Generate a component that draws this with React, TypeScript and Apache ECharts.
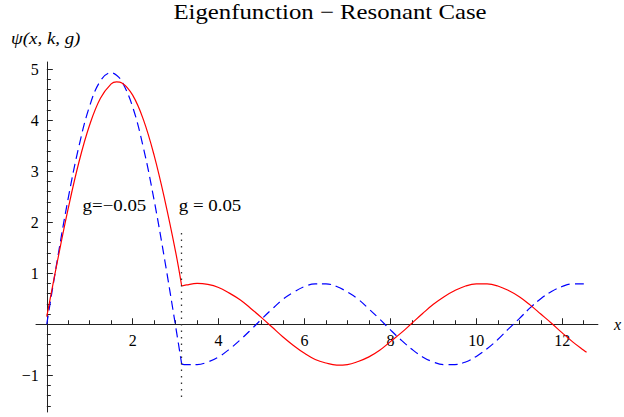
import React, { useEffect, useRef } from "react";
import * as echarts from "echarts";

// Sample positions and readings of the two eigenfunctions.
// Inside the well: 0 <= x <= pi ; outside: pi <= x <= 4 pi.
const X_INNER = [0, 0.25, 0.5, 0.75, 1, 1.25, 1.5, 1.625, 1.75, 2, 2.25, 2.5, 2.75, 3, 3.1416];
const RED_INNER = [0.15, 1.24, 2.27, 3.18, 3.91, 4.43, 4.71, 4.75, 4.73, 4.49, 4.01, 3.31, 2.43, 1.42, 0.75];
const BLUE_INNER = [0, 1.28, 2.47, 3.49, 4.28, 4.77, 4.93, 4.88, 4.76, 4.26, 3.46, 2.43, 1.24, -0.04, -0.78];

const X_OUTER = [
  3.1416, 3.25, 3.5, 3.75, 4, 4.25, 4.5, 4.75, 5, 5.25, 5.5, 5.75, 6, 6.25, 6.5, 6.75, 7, 7.25, 7.5, 7.75,
  8, 8.25, 8.5, 8.75, 9, 9.25, 9.5, 9.75, 10, 10.25, 10.5, 10.75, 11, 11.25, 11.5, 11.75, 12, 12.25, 12.5, 12.566,
];
const RED_OUTER = [
  0.75, 0.77, 0.8, 0.78, 0.72, 0.61, 0.48, 0.31, 0.13, -0.06, -0.25, -0.42, -0.57, -0.69, -0.76, -0.8, -0.79, -0.73, -0.64, -0.51,
  -0.34, -0.17, 0.02, 0.21, 0.39, 0.54, 0.66, 0.75, 0.79, 0.79, 0.75, 0.66, 0.54, 0.38, 0.2, 0.02, -0.17, -0.35, -0.51, -0.55,
];
const BLUE_OUTER = [
  -0.78, -0.79, -0.79, -0.74, -0.64, -0.49, -0.31, -0.11, 0.1, 0.3, 0.49, 0.63, 0.74, 0.79, 0.79, 0.74, 0.63, 0.49, 0.3, 0.1,
  -0.11, -0.31, -0.49, -0.64, -0.74, -0.79, -0.79, -0.74, -0.63, -0.48, -0.3, -0.09, 0.11, 0.32, 0.5, 0.64, 0.74, 0.79, 0.79, 0.78,
];

// Axis ticks
const X_MAJOR = [2, 4, 6, 8, 10, 12];
const Y_MAJOR = [-1, 1, 2, 3, 4, 5];

// Annotations: boundary at x = pi and the two coupling labels
const BOUNDARY_X = 3.1416;
const BOUNDARY_Y = [1.79, -1.5];
const NOTES: [number, number, string][] = [
  [1.576, 2.33, "g=\u22120.05"],
  [3.8, 2.33, "g = 0.05"],
];

const TITLE = "Eigenfunction \u2212 Resonant Case";
const Y_NAME = "\u03c8(x, k, g)";

const FONT = "Liberation Serif, serif";
// Typeset text in this plot runs a little wider than plain Times.
const TEXT_STRETCH = 1.18;

// Plot frame
const W = 624;
const H = 417;
const GRID = { left: 36, right: 22, top: 62, bottom: 5 };
const X_MIN = -0.25;
const X_MAX = 12.83;
const Y_MIN = -1.72;
const Y_MAX = 5.14;

function zip(xs: number[], ys: number[]) {
  return xs.map((x, i) => [x, ys[i]]);
}

function minorTicks(from: number, to: number, step: number, skip: number[]) {
  const out: number[] = [];
  const n = Math.round((to - from) / step);
  for (let i = 0; i <= n; i++) {
    const v = +(from + i * step).toFixed(4);
    if (Math.abs(v) < 1e-9) continue;
    if (skip.some((s) => Math.abs(s - v) < 1e-9)) continue;
    out.push(v);
  }
  return out;
}

function stretchedText(x: number, y: number, text: string, fontSize: number, italic = false) {
  return {
    type: "text",
    x,
    y,
    scaleX: TEXT_STRETCH,
    silent: true,
    style: {
      text,
      x: 0,
      y: 0,
      fill: "#000",
      fontFamily: FONT,
      fontSize,
      fontStyle: italic ? "italic" : "normal",
      align: "center",
      verticalAlign: "middle",
    },
  };
}

export default function App() {
  const ref = useRef<HTMLDivElement>(null);

  useEffect(() => {
    if (!ref.current) return;
    const chart = echarts.init(ref.current, undefined, { renderer: "svg" });

    const axisColor = "#222";
    const plotW = W - GRID.left - GRID.right;
    const plotH = H - GRID.top - GRID.bottom;
    // Axes cross at the origin: shift each axis from the frame edge to zero.
    const xAxisShift = -((0 - Y_MIN) / (Y_MAX - Y_MIN)) * plotH;
    const yAxisShift = -((0 - X_MIN) / (X_MAX - X_MIN)) * plotW;

    const xMinor = minorTicks(0.5, 12.5, 0.5, X_MAJOR);
    const yMinor = minorTicks(-1.6, 4.8, 0.2, Y_MAJOR);

    const minus = (v: number) => String(v).replace("-", "\u2212");

    const tickText = { fontFamily: FONT, fontSize: 16, color: "#000" };

    chart.setOption({
      animation: false,
      backgroundColor: "#fff",
      grid: { ...GRID, containLabel: false },
      xAxis: [
        {
          type: "value",
          min: X_MIN,
          max: X_MAX,
          position: "bottom",
          offset: xAxisShift,
          name: "x",
          nameLocation: "end",
          nameGap: 16,
          nameTextStyle: { fontFamily: FONT, fontSize: 16, fontStyle: "italic", color: "#000" },
          axisLine: { show: true, onZero: false, lineStyle: { color: axisColor, width: 1 } },
          axisTick: { show: true, inside: true, length: 6, customValues: X_MAJOR, lineStyle: { color: axisColor } },
          axisLabel: { show: true, customValues: X_MAJOR, margin: 8, ...tickText, formatter: (v: number) => minus(v) },
          splitLine: { show: false },
        },
        {
          type: "value",
          min: X_MIN,
          max: X_MAX,
          position: "bottom",
          offset: xAxisShift,
          axisLine: { show: false, onZero: false },
          axisTick: { show: true, inside: true, length: 4, customValues: xMinor, lineStyle: { color: axisColor } },
          axisLabel: { show: false },
          splitLine: { show: false },
        },
      ],
      yAxis: [
        {
          type: "value",
          min: Y_MIN,
          max: Y_MAX,
          position: "left",
          offset: yAxisShift,
          axisLine: { show: true, onZero: false, lineStyle: { color: axisColor, width: 1 } },
          axisTick: { show: true, inside: true, length: 6, customValues: Y_MAJOR, lineStyle: { color: axisColor } },
          axisLabel: { show: true, customValues: Y_MAJOR, margin: 8, ...tickText, formatter: (v: number) => minus(v) },
          splitLine: { show: false },
        },
        {
          type: "value",
          min: Y_MIN,
          max: Y_MAX,
          position: "left",
          offset: yAxisShift,
          axisLine: { show: false, onZero: false },
          axisTick: { show: true, inside: true, length: 4, customValues: yMinor, lineStyle: { color: axisColor } },
          axisLabel: { show: false },
          splitLine: { show: false },
        },
      ],
      series: [
        {
          name: "g=-0.05 inside",
          type: "line",
          data: zip(X_INNER, BLUE_INNER),
          showSymbol: false,
          smooth: 0.4,
          lineStyle: { color: "#0000ff", width: 1.2, type: [9, 5] },
          z: 3,
        },
        {
          name: "g=-0.05 outside",
          type: "line",
          data: zip(X_OUTER, BLUE_OUTER),
          showSymbol: false,
          smooth: 0.4,
          lineStyle: { color: "#0000ff", width: 1.2, type: [9, 5] },
          z: 3,
        },
        {
          name: "g=0.05 inside",
          type: "line",
          data: zip(X_INNER, RED_INNER),
          showSymbol: false,
          smooth: 0.4,
          lineStyle: { color: "#ff0000", width: 1.2 },
          z: 4,
        },
        {
          name: "g=0.05 outside",
          type: "line",
          data: zip(X_OUTER, RED_OUTER),
          showSymbol: false,
          smooth: 0.4,
          lineStyle: { color: "#ff0000", width: 1.2 },
          z: 4,
          markLine: {
            silent: true,
            symbol: ["none", "none"],
            label: { show: false },
            lineStyle: { color: "#333", width: 1.3, type: [1.5, 5] },
            data: [[{ coord: [BOUNDARY_X, BOUNDARY_Y[0]] }, { coord: [BOUNDARY_X, BOUNDARY_Y[1]] }]],
          },
        },
      ],
    });

    // Title, axis caption and coupling notes, placed through the grid's scales.
    const noteElems = NOTES.map(([x, y, t]) => {
      const [px, py] = chart.convertToPixel({ gridIndex: 0 }, [x, y]) as number[];
      return stretchedText(px, py, t, 16);
    });
    const [axisX] = chart.convertToPixel({ gridIndex: 0 }, [0, Y_MAX]) as number[];

    chart.setOption({
      graphic: [
        stretchedText(330, 12.2, TITLE, 21),
        stretchedText(axisX - 1, 38.6, Y_NAME, 16, true),
        ...noteElems,
      ],
    });

    return () => chart.dispose();
  }, []);

  return (
    <div
      ref={ref}
      style={{ position: "fixed", left: 0, top: 0, width: W, height: H, background: "#fff" }}
    />
  );
}
